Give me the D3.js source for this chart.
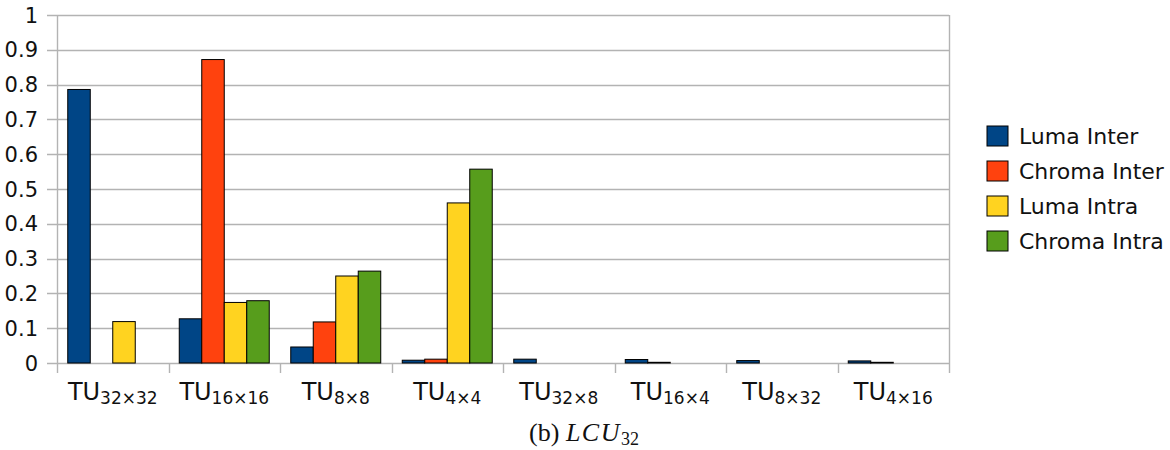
<!DOCTYPE html>
<html><head><meta charset="utf-8">
<script src="https://cdn.jsdelivr.net/npm/d3@7"></script>
<style>body{margin:0;background:#fff}svg{display:block}</style>
</head><body>
<svg id="c" width="1170" height="450"></svg>
<script>
const categories = [["TU","32×32"],["TU","16×16"],["TU","8×8"],["TU","4×4"],["TU","32×8"],["TU","16×4"],["TU","8×32"],["TU","4×16"]];
const seriesNames = ["Luma Inter","Chroma Inter","Luma Intra","Chroma Intra"];
const seriesColors = ["#004586","#ff420e","#ffd320","#579d1c"];
const lumaInter   = [0.786, 0.127, 0.046, 0.008, 0.011, 0.010, 0.007, 0.006];
const chromaInter = [0,     0.872, 0.118, 0.011, 0,     0.002, 0,     0.002];
const lumaIntra   = [0.119, 0.174, 0.250, 0.460, 0,     0,     0,     0];
const chromaIntra = [0,     0.179, 0.264, 0.557, 0,     0,     0,     0];
const yTicks = [0,0.1,0.2,0.3,0.4,0.5,0.6,0.7,0.8,0.9,1];
const yTickLabels = ["0","0.1","0.2","0.3","0.4","0.5","0.6","0.7","0.8","0.9","1"];
const caption = ["(b) ","LCU","32"];

const values = [lumaInter, chromaInter, lumaIntra, chromaIntra];
const svg = d3.select("#c");
const L = 57, R = 949, T = 15, B = 363;
const grid = "#b3b3b3";
const x = d3.scaleBand().domain(d3.range(categories.length)).range([L, R]);
const xi = d3.scaleBand().domain(d3.range(seriesNames.length)).range([0, x.bandwidth()]).paddingOuter(0.478);
const y = d3.scaleLinear().domain([0, 1]).range([B, T]);

// gridlines + y ticks
svg.append("g").selectAll("line").data(yTicks).join("line")
  .attr("x1", L - 10).attr("x2", R).attr("y1", d => Math.round(y(d)) + 0.5).attr("y2", d => Math.round(y(d)) + 0.5)
  .attr("stroke", grid).attr("stroke-width", 1.4);
// right border
svg.append("line").attr("x1", R + 0.5).attr("x2", R + 0.5).attr("y1", T).attr("y2", B + 10).attr("stroke", grid).attr("stroke-width", 1.4);
// left axis
svg.append("line").attr("x1", L + 0.5).attr("x2", L + 0.5).attr("y1", T).attr("y2", B + 10).attr("stroke", grid).attr("stroke-width", 1.4);
// x ticks at category boundaries
svg.append("g").selectAll("line").data(d3.range(1, categories.length)).join("line")
  .attr("x1", d => Math.round(x(d)) + 0.5).attr("x2", d => Math.round(x(d)) + 0.5)
  .attr("y1", B).attr("y2", B + 10).attr("stroke", grid).attr("stroke-width", 1.4);

// y labels
svg.append("g").selectAll("text").data(yTicks).join("text")
  .attr("x", 38).attr("y", d => y(d)).attr("dy", "0.36em").attr("text-anchor", "end")
  .attr("font-family", "DejaVu Sans").attr("font-size", 21).attr("fill", "#111")
  .text((d, i) => yTickLabels[i]);

// bars
const barG = svg.append("g");
values.forEach((vals, s) => {
  barG.selectAll(null).data(vals.map((v, i) => ({v, i}))).join("rect")
    .filter(d => d.v > 0)
    .attr("x", d => x(d.i) + xi(s)).attr("width", xi.bandwidth())
    .attr("y", d => y(d.v)).attr("height", d => y(0) - y(d.v))
    .attr("fill", seriesColors[s]).attr("stroke", "#000").attr("stroke-width", 1);
});

// x labels
const xl = svg.append("g").selectAll("text").data(categories).join("text")
  .attr("x", (d, i) => x(i) + x.bandwidth() / 2).attr("y", 400).attr("text-anchor", "middle")
  .attr("font-family", "DejaVu Sans").attr("fill", "#111");
xl.append("tspan").attr("font-size", 24).text(d => d[0]);
xl.append("tspan").attr("font-size", 17).attr("dy", 4).text(d => d[1]);

// legend
const lg = svg.append("g").selectAll("g").data(seriesNames).join("g")
  .attr("transform", (d, i) => `translate(987,${126 + i * 35})`);
lg.append("rect").attr("width", 21).attr("height", 20).attr("fill", (d, i) => seriesColors[i]).attr("stroke", "#000").attr("stroke-width", 1);
lg.append("text").attr("x", 32).attr("y", 18).attr("font-family", "DejaVu Sans").attr("font-size", 22).attr("fill", "#111").text(d => d);

// caption
const cap = svg.append("text").attr("x", 584).attr("y", 441).attr("text-anchor", "middle")
  .attr("font-family", "Liberation Serif").attr("fill", "#111");
cap.append("tspan").attr("font-size", 26).text(caption[0]);
cap.append("tspan").attr("font-size", 26).attr("font-style", "italic").attr("letter-spacing", 1.5).text(caption[1]);
cap.append("tspan").attr("font-size", 18).attr("dy", 4).text(caption[2]);
</script>
</body></html>
